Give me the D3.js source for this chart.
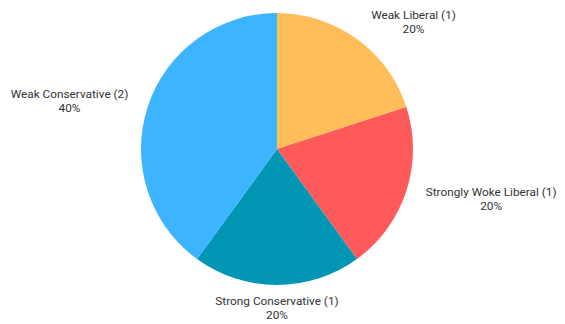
<!DOCTYPE html>
<html>
<head>
<meta charset="utf-8">
<script src="https://cdn.jsdelivr.net/npm/d3@7/dist/d3.min.js"></script>
<style>
  html, body { margin: 0; padding: 0; background: #fff; }
  svg { display: block; }
  text { font-family: Roboto, "Open Sans", sans-serif; font-size: 11.8px; fill: #333; }
</style>
</head>
<body>
<svg id="chart" width="565" height="324"></svg>
<script>
// Survey responses: political leaning
const categories = ["Weak Liberal", "Strongly Woke Liberal", "Strong Conservative", "Weak Conservative"];
const counts = [1, 1, 1, 2];
const percentLabels = ["20%", "20%", "20%", "40%"];
const colors = ["#FFBE5A", "#FF5A5A", "#0096B4", "#3CB4FF"];

const width = 565, height = 324;
const cx = 277, cy = 149, radius = 136;

const data = categories.map((c, i) => ({ name: c, count: counts[i], pct: percentLabels[i], color: colors[i] }));

const svg = d3.select("#chart");
const g = svg.append("g").attr("transform", `translate(${cx},${cy})`);

const pie = d3.pie().value(d => d.count).sort(null);
const arc = d3.arc().innerRadius(0).outerRadius(radius);
const arcs = pie(data);

g.selectAll("path.slice")
  .data(arcs)
  .join("path")
  .attr("class", "slice")
  .attr("d", arc)
  .attr("fill", d => d.data.color);

// Labels sit just outside the rim at each slice's mid-angle
const labelR = 150;
const lineGap = 14;
g.selectAll("g.label")
  .data(arcs)
  .join("g")
  .attr("class", "label")
  .each(function(d) {
    const a = (d.startAngle + d.endAngle) / 2;
    const s = Math.sin(a), c = Math.cos(a);
    let x = labelR * s;
    const anchor = s > 0.2 ? "start" : (s < -0.2 ? "end" : "middle");
    if (anchor === "start") x += 6;
    if (anchor === "end") x -= 6;
    const yc = -labelR * c - c * 8 + 1; // vertical centre of the two-line block
    const sel = d3.select(this);
    sel.append("text")
      .attr("x", x).attr("y", yc - lineGap / 2 + 4)
      .attr("text-anchor", anchor)
      .text(`${d.data.name} (${d.data.count})`);
    const t2 = sel.append("text")
      .attr("y", yc + lineGap / 2 + 4)
      .attr("text-anchor", "middle")
      .text(d.data.pct);
    // centre the percentage under the first line
    const w = sel.select("text").node().getComputedTextLength();
    const mid = anchor === "start" ? x + w / 2 : (anchor === "end" ? x - w / 2 : x);
    t2.attr("x", mid);
  });
</script>
</body>
</html>
